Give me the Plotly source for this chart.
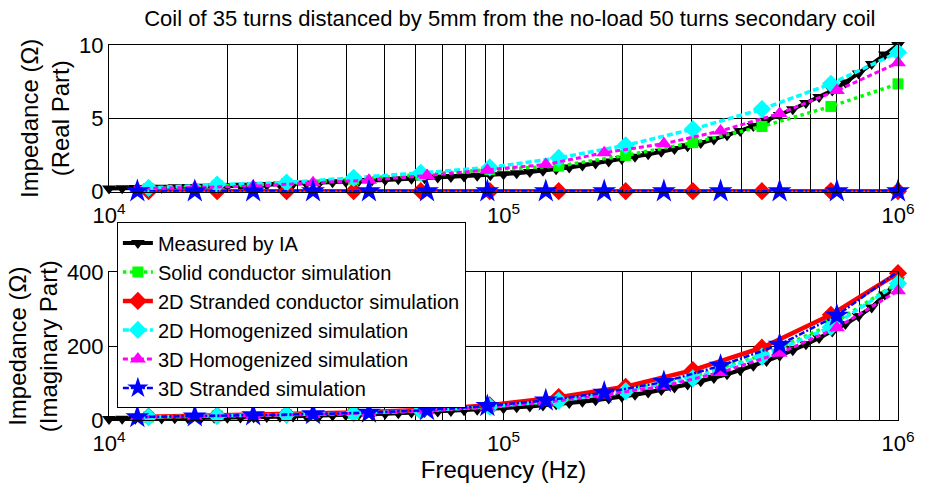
import plotly.graph_objects as go

# ---------------- data ----------------
# Measured by impedance analyser (dense sweep)
f_meas = [10000, 10798, 11659, 12589, 13594, 14678, 15849, 17113, 18478, 19953,
          21544, 23263, 25119, 27123, 29286, 31623, 34146, 36869, 39811, 42987,
          46416, 50119, 54117, 58434, 63096, 68129, 73564, 79433, 85770, 92612,
          100000, 107977, 116591, 125893, 135936, 146780, 158489, 171133, 184785, 199526,
          215443, 232631, 251189, 271227, 292864, 316228, 341455, 368695, 398107, 429866,
          464159, 501187, 541170, 584341, 630957, 681292, 735642, 794328, 857696, 926119,
          1000000]
re_meas = [0.22, 0.23, 0.24, 0.26, 0.27, 0.29, 0.31, 0.33, 0.35, 0.37,
           0.40, 0.43, 0.46, 0.49, 0.53, 0.56, 0.60, 0.64, 0.68, 0.72,
           0.76, 0.80, 0.84, 0.88, 0.92, 0.96, 1.00, 1.04, 1.08, 1.12,
           1.18, 1.25, 1.33, 1.42, 1.53, 1.65, 1.78, 1.92, 2.06, 2.22,
           2.38, 2.55, 2.72, 2.90, 3.10, 3.32, 3.56, 3.84, 4.14, 4.48,
           4.84, 5.22, 5.62, 6.04, 6.45, 6.90, 7.45, 8.05, 8.70, 9.35,
           10.0]
im_meas = [3.0, 3.2, 3.5, 3.8, 4.1, 4.5, 5.0, 5.4, 5.9, 6.4,
           7.0, 7.6, 8.3, 9.0, 9.8, 10.6, 11.5, 12.5, 13.5, 14.6,
           15.8, 17.1, 18.5, 20.0, 21.5, 23.0, 24.6, 26.3, 28.1, 30.0,
           32.0, 34.3, 36.8, 39.5, 42.5, 45.8, 49.5, 53.5, 58.0, 63.0,
           68.5, 74.5, 81.0, 88.0, 96.0, 105.0, 114.0, 124.0, 135.0, 147.0,
           160.0, 174.0, 189.0, 205.0, 222.0, 240.0, 260.0, 282.0, 305.0, 340.0,
           378.0]

# 2D simulations frequencies
f_2d = [12600, 18800, 28200, 41700, 61700, 92300, 138000, 204000, 302000, 452000, 676000, 1000000]
re_solid = [0.20, 0.40, 0.55, 0.85, 1.15, 1.50, 1.74, 2.47, 3.34, 4.44, 5.81, 7.35]
im_solid = [8, 11, 14, 18, 25, 36, 52, 80, 118, 175, 258, 372]
re_2dstr = [0.03, 0.03, 0.03, 0.03, 0.03, 0.03, 0.03, 0.03, 0.03, 0.03, 0.03, 0.03]
im_2dstr = [9, 12, 15, 20, 27, 40, 62, 90, 135, 196, 285, 398]
re_2dhom = [0.25, 0.48, 0.62, 0.94, 1.28, 1.65, 2.30, 3.16, 4.26, 5.63, 7.35, 9.50]
im_2dhom = [8, 11, 14, 18, 25, 36, 52, 78, 113, 172, 252, 370]

# 3D simulations frequencies
f_3d = [11800, 16500, 23200, 32900, 45600, 64000, 91000, 128000, 180000, 255000, 355000, 501000, 700000, 1000000]
re_3dhom = [0.20, 0.28, 0.37, 0.60, 0.78, 1.10, 1.46, 1.85, 2.65, 3.27, 4.14, 5.33, 6.89, 8.79]
im_3dhom = [8, 10, 12, 15, 19, 25, 35, 48, 68, 92, 129, 181, 250, 350]
re_3dstr = [0.03, 0.03, 0.03, 0.03, 0.03, 0.03, 0.03, 0.03, 0.03, 0.03, 0.03, 0.03, 0.03, 0.03]
im_3dstr = [8, 10, 13, 16, 20, 27, 38, 53, 74, 103, 147, 204, 283, 402]

names = ["Measured by IA", "Solid conductor simulation", "2D Stranded conductor simulation",
         "2D Homogenized simulation", "3D Homogenized simulation", "3D Stranded simulation"]

x_major_vals = [1e4, 1e5, 1e6]
x_major_text = ["10<sup>4</sup>", "10<sup>5</sup>", "10<sup>6</sup>"]
x_minor_vals = [2e4, 3e4, 4e4, 5e4, 6e4, 7e4, 8e4, 9e4,
                2e5, 3e5, 4e5, 5e5, 6e5, 7e5, 8e5, 9e5]

title_text = "Coil of 35 turns distanced by 5mm from the no-load 50 turns secondary coil"

# ---------------- styles ----------------
styles = [
    dict(color="black", dash="solid", width=4, symbol="triangle-down", size=12),
    dict(color="#00FF00", dash="dot", width=3.5, symbol="square", size=11),
    dict(color="#FF0000", dash="solid", width=4.5, symbol="diamond", size=14),
    dict(color="#00FFFF", dash="6px,3px", width=3.5, symbol="diamond", size=14),
    dict(color="#FF00FF", dash="5px,3px", width=3, symbol="triangle-up", size=14),
    dict(color="#0000FF", dash="6px,2px,2px,2px", width=2.5, symbol="star", size=18),
]

series = [
    (f_meas, re_meas, im_meas),
    (f_2d, re_solid, im_solid),
    (f_2d, re_2dstr, im_2dstr),
    (f_2d, re_2dhom, im_2dhom),
    (f_3d, re_3dhom, im_3dhom),
    (f_3d, re_3dstr, im_3dstr),
]

FONT = "Liberation Sans, Arial, sans-serif"

fig = go.Figure()
for (fx, yre, yim), st, nm in zip(series, styles, names):
    line = dict(color=st["color"], dash=st["dash"], width=st["width"])
    marker = dict(color=st["color"], symbol=st["symbol"], size=st["size"], line=dict(width=0))
    fig.add_trace(go.Scatter(x=fx, y=yre, mode="lines+markers", name=nm, line=line,
                             marker=marker, xaxis="x", yaxis="y", showlegend=True,
                             cliponaxis=False, legendgroup=nm))
    fig.add_trace(go.Scatter(x=fx, y=yim, mode="lines+markers", name=nm, line=line,
                             marker=marker, xaxis="x2", yaxis="y2", showlegend=False,
                             cliponaxis=False, legendgroup=nm))

axis_common = dict(showline=True, linecolor="black", linewidth=1, mirror=True,
                   ticks="inside", ticklen=4, tickcolor="black",
                   showgrid=True, gridcolor="black", gridwidth=1, zeroline=False,
                   tickfont=dict(family=FONT, size=22, color="black"))

xcommon = dict(type="log", range=[4, 6], tickmode="array", tickvals=x_major_vals,
               ticktext=x_major_text, ticklabelstandoff=4,
               minor=dict(tickmode="array", tickvals=x_minor_vals, showgrid=True,
                          gridcolor="black", gridwidth=1, ticks="inside", ticklen=3,
                          tickcolor="black"),
               **axis_common)

fig.update_layout(
    width=927, height=485,
    margin=dict(l=109, r=17, t=45, b=64),
    paper_bgcolor="white", plot_bgcolor="white",
    font=dict(family=FONT, size=22, color="black"),
    title=dict(text=title_text, x=0.55, xanchor="center", y=0.962, yanchor="middle",
               font=dict(family=FONT, size=22, color="black")),
    xaxis=dict(domain=[0, 1], anchor="y", **xcommon),
    yaxis=dict(domain=[0.609, 1], anchor="x", range=[0, 10], tickvals=[0, 5, 10],
               title=dict(text="Impedance (\u03a9)<br>(Real Part)", standoff=2,
                          font=dict(family=FONT, size=24)),
               **axis_common),
    xaxis2=dict(domain=[0, 1], anchor="y2",
                title=dict(text="Frequency (Hz)", standoff=0, font=dict(family=FONT, size=24)),
                **xcommon),
    yaxis2=dict(domain=[0, 0.3936], anchor="x2", range=[0, 400], tickvals=[0, 200, 400],
                title=dict(text="Impedance (\u03a9)<br>(Imaginary Part)", standoff=2,
                           font=dict(family=FONT, size=24)),
                **axis_common),
    legend=dict(x=0.01, y=0.527, xanchor="left", yanchor="top",
                bgcolor="white", bordercolor="black", borderwidth=1,
                font=dict(family=FONT, size=20, color="black"),
                tracegroupgap=0, itemwidth=30),
    showlegend=True,
)

fig.write_html("out.html")
